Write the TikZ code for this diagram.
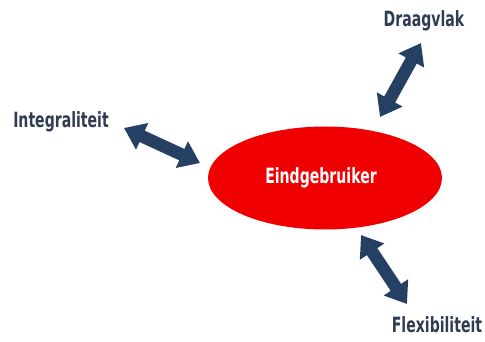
\documentclass[tikz,border=0pt]{standalone}
\usepackage{fontspec}
\usepackage{tikz}
\usetikzlibrary{positioning,arrows.meta,shapes.geometric}
\newfontfamily\agfont[FakeStretch=0.67]{DejaVu Sans}
\definecolor{arrowblue}{RGB}{38,64,100}
\definecolor{labelblue}{RGB}{48,60,82}
\definecolor{ellred}{RGB}{240,0,0}

\begin{document}
\begin{tikzpicture}[
  x=1pt, y=-1pt,
  font=\agfont\bfseries\fontsize{21}{23}\selectfont,
  lbl/.style={text=labelblue, inner sep=0pt, anchor=base},
  core/.style={ellipse, fill=ellred, minimum width=234pt, minimum height=103pt, inner sep=0pt},
  dbl/.style={{Triangle[length=20pt,width=28pt]}-{Triangle[length=20pt,width=28pt]}, line width=12.5pt, arrowblue}
]
\useasboundingbox (0,0) rectangle (485,342);
\node[core] (user) at (325,178) {};
\node[lbl, text=white] (usertxt) at (321,184) {Eindgebruiker};
\node[lbl] (integ) at (61,128) {Integraliteit};
\node[lbl] (draag) at (424,27) {Draagvlak};
\node[lbl] (flex)  at (437,332) {Flexibiliteit};
\coordinate (integ-a) at (124,128);
\coordinate (integ-b) at (200,163);
\coordinate (draag-a) at (421,43);
\coordinate (draag-b) at (380,117);
\coordinate (flex-a)  at (361,235);
\coordinate (flex-b)  at (407,304);
\draw[dbl] (integ-a) -- (integ-b);
\draw[dbl] (draag-a) -- (draag-b);
\draw[dbl] (flex-a)  -- (flex-b);
\end{tikzpicture}
\end{document}
